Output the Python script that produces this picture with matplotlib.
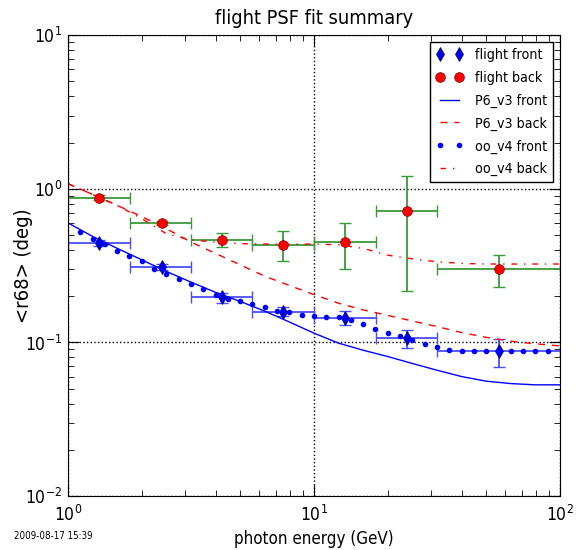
import numpy as np
import matplotlib
matplotlib.use("Agg")
import matplotlib.pyplot as plt
from matplotlib import font_manager

# ---- data ----
bin_edges = [1.0, 1.78, 3.16, 5.62, 10.0, 17.8, 31.6, 100.0]
bin_centers = [1.34, 2.41, 4.23, 7.48, 13.4, 23.9, 56.5]

front_vals = [0.445, 0.311, 0.198, 0.158, 0.145, 0.107, 0.088]
front_lo = [0.425, 0.297, 0.182, 0.149, 0.130, 0.092, 0.0694]
front_hi = [0.465, 0.324, 0.210, 0.169, 0.160, 0.121, 0.106]

back_vals = [0.873, 0.60, 0.466, 0.432, 0.452, 0.72, 0.30]
back_lo = [0.84, 0.585, 0.419, 0.34, 0.30, 0.217, 0.23]
back_hi = [0.905, 0.615, 0.515, 0.533, 0.60, 1.21, 0.372]

curve_logE = [0.0, 0.1, 0.2, 0.3, 0.4, 0.5, 0.6, 0.7, 0.8, 0.9, 1.0,
              1.1, 1.2, 1.3, 1.4, 1.5, 1.6, 1.7, 1.8, 1.9, 2.0]
p6_front = [0.60, 0.49, 0.41, 0.345, 0.29, 0.247, 0.212, 0.185, 0.160, 0.136, 0.115,
            0.099, 0.089, 0.081, 0.073, 0.066, 0.060, 0.056, 0.054, 0.053, 0.053]
p6_back = [1.08, 0.92, 0.78, 0.66, 0.55, 0.45, 0.38, 0.32, 0.27, 0.235, 0.205,
           0.18, 0.163, 0.15, 0.138, 0.127, 0.116, 0.108, 0.102, 0.098, 0.095]
oo_back = [1.08, 0.92, 0.78, 0.64, 0.51, 0.465, 0.45, 0.44, 0.437, 0.437, 0.437,
           0.432, 0.41, 0.37, 0.35, 0.335, 0.327, 0.324, 0.324, 0.324, 0.324]

oo_front_logE = [0.05, 0.10, 0.15, 0.20, 0.25, 0.30, 0.35, 0.40, 0.45, 0.50,
                 0.55, 0.60, 0.65, 0.70, 0.75, 0.80, 0.85, 0.90, 0.95, 1.00,
                 1.05, 1.10, 1.15, 1.20, 1.25, 1.30, 1.35, 1.40, 1.45, 1.50,
                 1.55, 1.60, 1.65, 1.70, 1.75, 1.80, 1.85, 1.90, 1.95]
oo_front = [0.525, 0.475, 0.44, 0.395, 0.365, 0.337, 0.303, 0.279, 0.258, 0.24,
            0.222, 0.204, 0.193, 0.185, 0.178, 0.169, 0.161, 0.157, 0.152, 0.148,
            0.147, 0.146, 0.140, 0.132, 0.123, 0.116, 0.110, 0.103, 0.098, 0.093,
            0.089, 0.088, 0.088, 0.088, 0.088, 0.088, 0.088, 0.088, 0.088]

# ---- font: prefer a condensed face if one is installed ----
names = {f.name for f in font_manager.fontManager.ttflist}
cond = [f for f in font_manager.fontManager.ttflist
        if f.name.startswith('DejaVu Sans') and 'ondensed' in (f.name + str(f.stretch) + f.fname)
        and 'Mono' not in f.name and f.weight in (400, 'normal') and f.style == 'normal']
if cond:
    plt.rcParams['font.family'] = [cond[0].name, 'DejaVu Sans']
    plt.rcParams['font.stretch'] = 'condensed'
elif 'Liberation Sans Narrow' in names:
    plt.rcParams['font.family'] = ['Liberation Sans Narrow', 'DejaVu Sans']
else:
    plt.rcParams['font.family'] = ['DejaVu Sans']
plt.rcParams['mathtext.fontset'] = 'dejavusans'
plt.rcParams['axes.unicode_minus'] = False

# ---- plot ----
fig = plt.figure(figsize=(5.79, 5.5), dpi=100)
ax = fig.add_axes([0.1174, 0.098, 0.8496, 0.838])

bc = np.array(bin_centers)
xerr = np.array([bc - np.array(bin_edges[:-1]), np.array(bin_edges[1:]) - bc])
fv = np.array(front_vals)
bv = np.array(back_vals)

ax.errorbar(bc, fv, xerr=xerr, yerr=[fv - np.array(front_lo), np.array(front_hi) - fv],
            fmt='none', ecolor=(0.3, 0.3, 1.0), elinewidth=1.3, capsize=4, capthick=1.0)
ax.plot(bc, fv, 'd', color='#0000e0', markersize=7, markeredgecolor='#000080',
        markeredgewidth=0.5, label='flight front')
ax.errorbar(bc, bv, xerr=xerr, yerr=[bv - np.array(back_lo), np.array(back_hi) - bv],
            fmt='none', ecolor='#3a9a3a', elinewidth=1.3, capsize=4, capthick=1.0)
ax.plot(bc, bv, 'o', color='red', markersize=7, markeredgecolor='#800000',
        markeredgewidth=0.5, label='flight back')

E = 10 ** np.array(curve_logE)
ax.plot(E, p6_front, '-', color='blue', lw=1.0, label='P6_v3 front')
ax.plot(E, p6_back, '--', color='red', lw=1.0, dashes=(5, 5), label='P6_v3 back')
ax.plot(10 ** np.array(oo_front_logE), oo_front, '.', color='blue', markersize=6,
        label='oo_v4 front')
ax.plot(E, oo_back, '-.', color='red', lw=1.0, dashes=(4, 5, 1, 5), label='oo_v4 back')

ax.set_xscale('log')
ax.set_yscale('log')
ax.set_xlim(1, 100)
ax.set_ylim(0.01, 10)
ax.grid(True, which='major', color='black', linestyle=':', linewidth=1.0)
ax.tick_params(which='both', direction='in', top=True, right=True, labelsize=12.5)
ax.tick_params(which='major', length=8)
ax.tick_params(which='minor', length=4)
ax.tick_params(axis='x', pad=6)
ax.tick_params(axis='y', pad=4)

ax.set_title('flight PSF fit summary', fontsize=14.3, pad=8)
ax.set_xlabel('photon energy (GeV)', fontsize=12.2)
ax.set_ylabel('<r68> (deg)', fontsize=14.5)
ax.yaxis.set_label_coords(-0.072, 0.5)

leg = ax.legend(loc='upper right', numpoints=2, fontsize=10.2, fancybox=False,
                framealpha=1, edgecolor='black', handlelength=2.0, borderaxespad=0.5,
                labelspacing=0.62)
leg.get_frame().set_linewidth(1.0)

fig.text(0.024, 0.02, '2009-08-17 15:39', fontsize=7)

fig.savefig('out.png', dpi=100)
